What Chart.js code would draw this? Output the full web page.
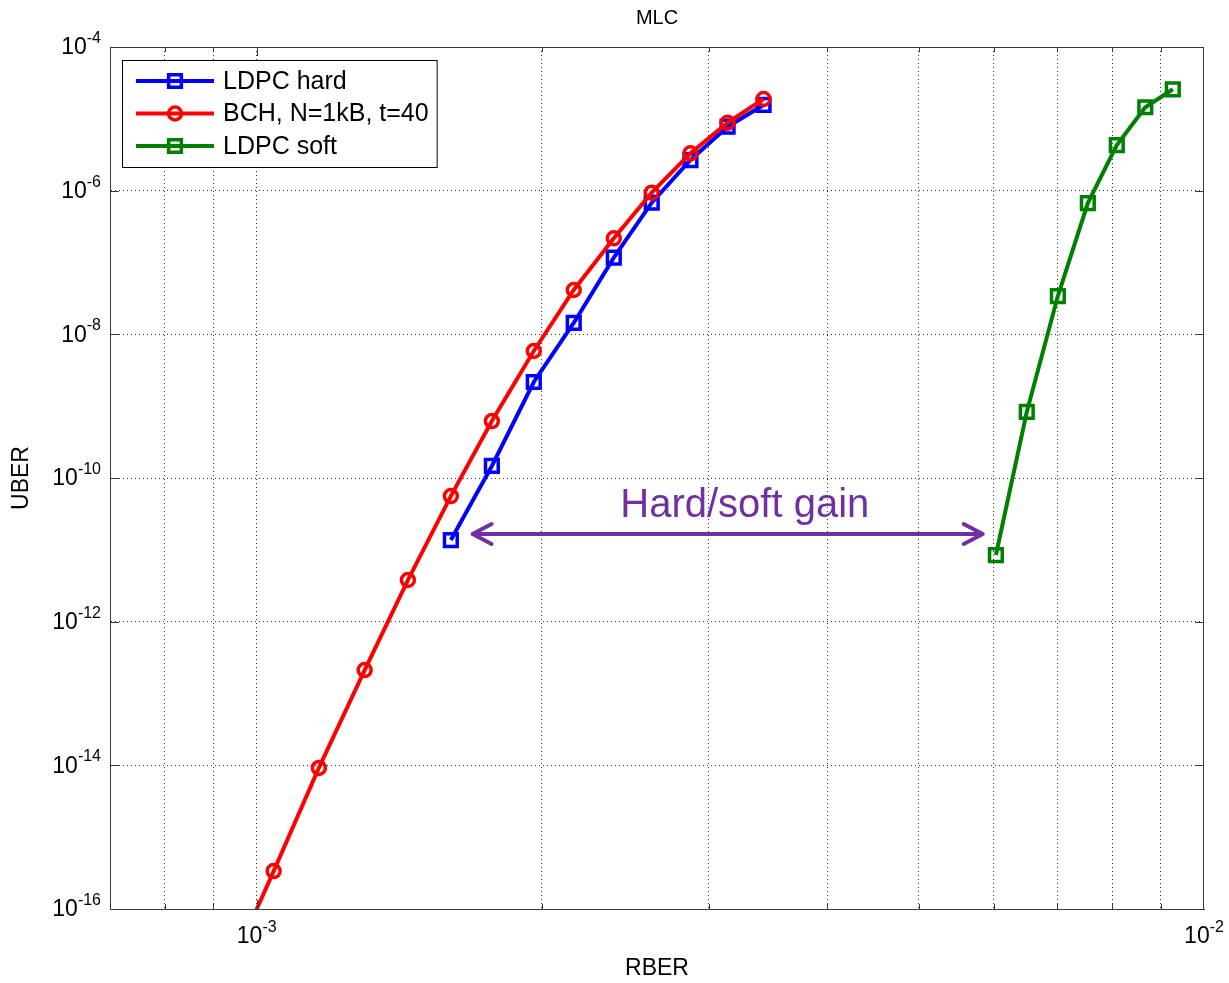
<!DOCTYPE html>
<html>
<head>
    <title>MLC</title>
    <script src="https://cdn.jsdelivr.net/npm/chart.js"></script>
    <style>
        body { margin: 0; background: #fff; }
    </style>
</head>
<body>
    <canvas id="mlcChart" width="1229" height="983"></canvas>
    <script>
        // RBER / UBER values
        const rberHard = [1.603e-3, 1.771e-3, 1.961e-3, 2.161e-3, 2.382e-3, 2.612e-3, 2.870e-3, 3.141e-3, 3.428e-3];
        const uberHard = [1.37e-11, 1.47e-10, 2.17e-9, 1.44e-8, 1.17e-7, 6.8e-7, 2.67e-6, 7.77e-6, 1.56e-5];

        const rberBch = [0.932e-3, 1.042e-3, 1.163e-3, 1.300e-3, 1.444e-3, 1.603e-3, 1.771e-3, 1.961e-3, 2.161e-3, 2.382e-3, 2.612e-3, 2.870e-3, 3.141e-3, 3.428e-3];
        const uberBch = [1.24e-17, 3.37e-16, 9.2e-15, 2.12e-13, 3.8e-12, 5.6e-11, 6.2e-10, 5.86e-9, 4.14e-8, 2.17e-7, 9.37e-7, 3.31e-6, 8.83e-6, 1.89e-5];

        const rberSoft = [6.03e-3, 6.50e-3, 7.01e-3, 7.54e-3, 8.09e-3, 8.67e-3, 9.27e-3];
        const uberSoft = [8.47e-12, 8.3e-10, 3.41e-8, 6.73e-7, 4.32e-6, 1.45e-5, 2.58e-5];

        const seriesNames = ['LDPC hard', 'BCH, N=1kB, t=40', 'LDPC soft'];

        // axis ticks
        const xGridValues = [8e-4, 9e-4, 1e-3, 2e-3, 3e-3, 4e-3, 5e-3, 6e-3, 7e-3, 8e-3, 9e-3];
        const xLabelValues = [1e-3, 1e-2];
        const yTickValues = [1e-16, 1e-14, 1e-12, 1e-10, 1e-8, 1e-6, 1e-4];

        // annotation
        const gainLabel = 'Hard/soft gain';
        const gainArrowX = [1.69e-3, 5.84e-3];
        const gainArrowY = 1.66e-11;
        const gainLabelPos = [3.275e-3, 2.86e-11];

        const FONT = '"Liberation Sans", Arial, Helvetica, sans-serif';
        const PURPLE = '#7030A0';

        Chart.defaults.font.family = FONT;
        Chart.defaults.color = '#000';

        function toPoints(xs, ys) {
            return xs.map((x, i) => ({ x: x, y: ys[i] }));
        }

        const styles = [
            { color: '#0000FF', point: 'rect', radius: 9 },
            { color: '#FF0000', point: 'circle', radius: 6.5 },
            { color: '#008000', point: 'rect', radius: 9 }
        ];

        function drawPow(ctx, exp, x, y, align) {
            const big = '23px ' + FONT, small = '16px ' + FONT;
            ctx.font = big;
            const bw = ctx.measureText('10').width;
            ctx.font = small;
            const ew = ctx.measureText(exp).width;
            const left = align === 'right' ? x - bw - ew : x - (bw + ew) / 2;
            ctx.fillStyle = '#000';
            ctx.textAlign = 'left';
            ctx.textBaseline = 'middle';
            ctx.font = big;
            ctx.fillText('10', left, y);
            ctx.font = small;
            ctx.textBaseline = 'alphabetic';
            ctx.fillText(exp, left + bw, y - 5);
        }

        function drawMarker(ctx, style, x, y) {
            ctx.save();
            ctx.strokeStyle = style.color;
            ctx.lineWidth = 3.5;
            ctx.beginPath();
            if (style.point === 'rect') {
                const s = style.radius * Math.SQRT1_2;
                ctx.rect(x - s, y - s, 2 * s, 2 * s);
            } else {
                ctx.arc(x, y, style.radius, 0, Math.PI * 2);
            }
            ctx.stroke();
            ctx.restore();
        }

        const decor = {
            id: 'decor',
            afterDatasetsDraw(chart) {
                const ctx = chart.ctx;
                const xs = chart.scales.x, ys = chart.scales.y;
                const x1 = xs.getPixelForValue(gainArrowX[0]);
                const x2 = xs.getPixelForValue(gainArrowX[1]);
                const ay = ys.getPixelForValue(gainArrowY);
                ctx.save();
                ctx.strokeStyle = PURPLE;
                ctx.lineWidth = 4;
                ctx.lineCap = 'round';
                ctx.lineJoin = 'round';
                ctx.beginPath();
                ctx.moveTo(x1, ay);
                ctx.lineTo(x2, ay);
                ctx.moveTo(x1 + 19, ay - 10);
                ctx.lineTo(x1, ay);
                ctx.lineTo(x1 + 19, ay + 10);
                ctx.moveTo(x2 - 19, ay - 10);
                ctx.lineTo(x2, ay);
                ctx.lineTo(x2 - 19, ay + 10);
                ctx.stroke();
                ctx.fillStyle = PURPLE;
                ctx.font = '40px ' + FONT;
                ctx.textAlign = 'center';
                ctx.textBaseline = 'alphabetic';
                ctx.fillText(gainLabel, xs.getPixelForValue(gainLabelPos[0]), ys.getPixelForValue(gainLabelPos[1]));
                ctx.restore();
            },
            afterDraw(chart) {
                const ctx = chart.ctx;
                const area = chart.chartArea;
                const xs = chart.scales.x, ys = chart.scales.y;
                ctx.save();

                // box + inward ticks
                ctx.strokeStyle = '#3a3a3a';
                ctx.lineWidth = 1;
                ctx.strokeRect(area.left + 0.5, area.top + 0.5, area.right - area.left - 1, area.bottom - area.top);
                ctx.beginPath();
                xGridValues.forEach(v => {
                    const px = Math.round(xs.getPixelForValue(v)) + 0.5;
                    const len = xLabelValues.includes(v) ? 9 : 5;
                    ctx.moveTo(px, area.bottom); ctx.lineTo(px, area.bottom - len);
                    ctx.moveTo(px, area.top); ctx.lineTo(px, area.top + len);
                });
                yTickValues.forEach(v => {
                    const py = Math.round(ys.getPixelForValue(v)) + 0.5;
                    ctx.moveTo(area.left, py); ctx.lineTo(area.left + 9, py);
                    ctx.moveTo(area.right, py); ctx.lineTo(area.right - 9, py);
                });
                ctx.stroke();

                // tick labels with exponents
                xLabelValues.forEach(v => {
                    drawPow(ctx, String(Math.round(Math.log10(v))), xs.getPixelForValue(v), area.bottom + 28, 'center');
                });
                yTickValues.forEach(v => {
                    drawPow(ctx, String(Math.round(Math.log10(v))), area.left - 9, ys.getPixelForValue(v) + 1, 'right');
                });

                // legend inside the axes
                const lx = area.left + 12, ly = area.top + 13;
                ctx.font = '25px ' + FONT;
                const textX = lx + 101;
                const maxW = Math.max(...seriesNames.map(n => ctx.measureText(n).width));
                const boxW = textX - lx + maxW + 8;
                const boxH = 107;
                ctx.fillStyle = '#fff';
                ctx.fillRect(lx, ly, boxW, boxH);
                ctx.strokeStyle = '#000';
                ctx.strokeRect(lx + 0.5, ly + 0.5, boxW, boxH);
                seriesNames.forEach((name, i) => {
                    const ry = ly + 21 + i * 32.5;
                    const st = styles[i];
                    ctx.strokeStyle = st.color;
                    ctx.lineWidth = 4;
                    ctx.beginPath();
                    ctx.moveTo(lx + 14, ry);
                    ctx.lineTo(lx + 92, ry);
                    ctx.stroke();
                    drawMarker(ctx, st, lx + 53, ry);
                    ctx.fillStyle = '#000';
                    ctx.textAlign = 'left';
                    ctx.textBaseline = 'middle';
                    ctx.font = '25px ' + FONT;
                    ctx.fillText(name, textX, ry + 1);
                });
                ctx.restore();
            }
        };

        const sets = [[rberHard, uberHard], [rberBch, uberBch], [rberSoft, uberSoft]];
        const datasets = sets.map((s, i) => ({
            label: seriesNames[i],
            data: toPoints(s[0], s[1]),
            borderColor: styles[i].color,
            backgroundColor: styles[i].color,
            borderWidth: 4,
            pointStyle: styles[i].point,
            pointRadius: styles[i].radius,
            pointBorderWidth: 3.5,
            pointBorderColor: styles[i].color,
            pointBackgroundColor: 'rgba(0,0,0,0)',
            tension: 0,
            order: i === 1 ? 0 : 1
        }));

        const gridOpts = {
            color: 'rgba(0,0,0,0.8)',
            lineWidth: 1,
            drawTicks: false
        };

        new Chart(document.getElementById('mlcChart'), {
            type: 'line',
            data: { datasets: datasets },
            options: {
                responsive: false,
                animation: false,
                layout: { padding: { right: 25, left: 0, top: 0, bottom: 0 } },
                plugins: {
                    legend: { display: false },
                    tooltip: { enabled: false },
                    title: {
                        display: true,
                        fullSize: false,
                        text: 'MLC',
                        font: { size: 20, weight: 'normal' },
                        color: '#000',
                        padding: { top: 6, bottom: 17 }
                    }
                },
                scales: {
                    x: {
                        type: 'logarithmic',
                        min: 7e-4,
                        max: 1e-2,
                        grid: gridOpts,
                        border: { display: true, color: '#3a3a3a', dash: [1, 3] },
                        ticks: { display: false },
                        afterBuildTicks: scale => { scale.ticks = xGridValues.map(v => ({ value: v })); },
                        afterFit: scale => { scale.height = 74; },
                        title: { display: true, text: 'RBER', font: { size: 23 }, color: '#000', padding: { top: 0, bottom: 1 } }
                    },
                    y: {
                        type: 'logarithmic',
                        min: 1e-16,
                        max: 1e-4,
                        grid: gridOpts,
                        border: { display: true, color: '#3a3a3a', dash: [1, 3] },
                        ticks: { display: false },
                        afterBuildTicks: scale => { scale.ticks = yTickValues.map(v => ({ value: v })); },
                        afterFit: scale => { scale.width = 110; },
                        title: { display: true, text: 'UBER', font: { size: 23 }, color: '#000', padding: { top: 8, bottom: 0 } }
                    }
                }
            },
            plugins: [decor]
        });
    </script>
</body>
</html>
